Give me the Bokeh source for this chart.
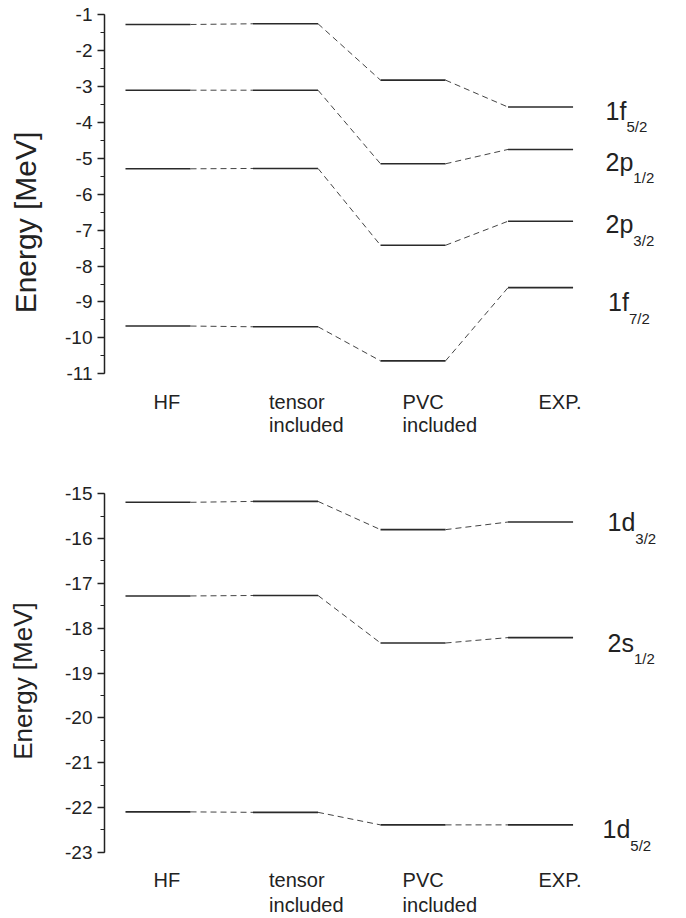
from bokeh.plotting import figure
from bokeh.layouts import column
from bokeh.models import Range1d, SingleIntervalTicker, PrintfTickFormatter
from bokeh.core.properties import value
from bokeh.embed import file_html
from bokeh.resources import INLINE

# ---------------- data ----------------
methods = ["HF", "tensor\nincluded", "PVC\nincluded", "EXP."]
method_label_x = [0.965, 1.871, 2.918, 3.984]   # left edge of category captions (x units)

# upper panel (1f, 2p states)
top_states = [("1f", "5/2"), ("2p", "1/2"), ("2p", "3/2"), ("1f", "7/2")]
top_hf = [-1.27, -3.10, -5.29, -9.67]
top_tensor = [-1.25, -3.10, -5.28, -9.69]
top_pvc = [-2.82, -5.15, -7.42, -10.64]
top_exp = [-3.57, -4.75, -6.75, -8.60]
top_label_x = [4.51, 4.51, 4.51, 4.53]
top_label_y = [-3.67, -5.10, -6.83, -9.01]

# lower panel (1d, 2s states)
bot_states = [("1d", "3/2"), ("2s", "1/2"), ("1d", "5/2")]
bot_hf = [-15.19, -17.28, -22.10]
bot_tensor = [-15.17, -17.27, -22.11]
bot_pvc = [-15.80, -18.33, -22.39]
bot_exp = [-15.63, -18.21, -22.39]
bot_label_x = [4.525, 4.525, 4.486]
bot_label_y = [-15.64, -18.32, -22.49]

FONT = value("Liberation Sans")
INK = "#222222"
HALF = 0.255  # half width of a level bar (x units)

CHAR_W = {"1": 0.556, "2": 0.556, "f": 0.278, "p": 0.556, "d": 0.556, "s": 0.5}


def panel(levels, states, lab_x, lab_y, y_lo, y_hi, axis_min, axis_max,
          height, border_top, cap_offsets, title_size, title_standoff):
    p = figure(width=684, height=height, output_backend="svg",
               toolbar_location=None, x_axis_location=None,
               x_range=Range1d(0.5804, 5.129), y_range=Range1d(y_lo, y_hi),
               min_border_left=104, min_border_right=0,
               min_border_top=border_top, min_border_bottom=0)
    p.outline_line_color = None
    p.grid.visible = False
    p.background_fill_color = "white"
    p.border_fill_color = "white"

    # levels
    n_m = len(levels)
    xs0, xs1, ys = [], [], []
    for i, lev in enumerate(levels):
        for e in lev:
            xs0.append(i + 1 - HALF)
            xs1.append(i + 1 + HALF)
            ys.append(e)
    p.segment(x0=xs0, y0=ys, x1=xs1, y1=ys, line_color="#2a2a2a", line_width=1.6)

    # dashed connectors
    cx0, cy0, cx1, cy1 = [], [], [], []
    for i in range(n_m - 1):
        for a, b in zip(levels[i], levels[i + 1]):
            cx0.append(i + 1 + HALF)
            cy0.append(a)
            cx1.append(i + 2 - HALF)
            cy1.append(b)
    p.segment(x0=cx0, y0=cy0, x1=cx1, y1=cy1, line_color="#444444",
              line_width=1, line_dash="6 4")

    # state labels with subscripts
    for (main, sub), lx, ly in zip(states, lab_x, lab_y):
        p.text(x=[lx], y=[ly], text=[main], text_font=FONT, text_font_size="25px",
               text_baseline="middle", text_align="left", text_color=INK)
        w = sum(CHAR_W.get(c, 0.556) for c in main) * 25
        p.text(x=[lx], y=[ly], text=[sub], text_font=FONT, text_font_size="15px",
               text_baseline="middle", text_align="left", text_color=INK,
               x_offset=w, y_offset=16)

    # category captions
    for name, cx in zip(methods, method_label_x):
        for k, line in enumerate(name.split("\n")):
            p.text(x=[cx], y=[axis_min], text=[line], text_font=FONT,
                   text_font_size="20px", text_baseline="middle",
                   text_align="left", text_color=INK, y_offset=cap_offsets[k])

    ax = p.yaxis[0]
    ax.ticker = SingleIntervalTicker(interval=1, num_minor_ticks=2)
    ax.formatter = PrintfTickFormatter(format="%d")
    ax.bounds = (axis_min, axis_max)
    ax.axis_label = "Energy [MeV]"
    ax.axis_label_text_font = "Liberation Sans"
    ax.axis_label_text_font_size = title_size
    ax.axis_label_text_font_style = "normal"
    ax.axis_label_text_color = INK
    ax.axis_label_standoff = title_standoff
    ax.major_label_text_font = "Liberation Sans"
    ax.major_label_text_font_size = "19px"
    ax.major_label_text_color = INK
    ax.major_label_standoff = 5
    ax.axis_line_color = INK
    ax.axis_line_width = 1.5
    ax.major_tick_line_color = INK
    ax.major_tick_line_width = 1.5
    ax.major_tick_out = 7
    ax.major_tick_in = 0
    ax.minor_tick_line_color = INK
    ax.minor_tick_line_width = 1.2
    ax.minor_tick_out = 4
    ax.minor_tick_in = 0
    return p


# top panel: y=-1 at canvas y 14.3, 35.9 px per MeV; frame from y 4 to 440
p1 = panel([top_hf, top_tensor, top_pvc, top_exp], top_states, top_label_x,
           top_label_y, -12.858, -0.713, -11, -1, 440, 4, (28, 51), "30px", 20)
# bottom panel: y=-15 at page y 493.3, 44.8 px per MeV; frame from y 445 to 916
p2 = panel([bot_hf, bot_tensor, bot_pvc, bot_exp], bot_states, bot_label_x,
           bot_label_y, -24.435, -13.922, -23, -15, 476, 5, (28, 53), "26px", 24)

layout = column(p1, p2, spacing=0)
open("out.html", "w").write(file_html(layout, INLINE))
